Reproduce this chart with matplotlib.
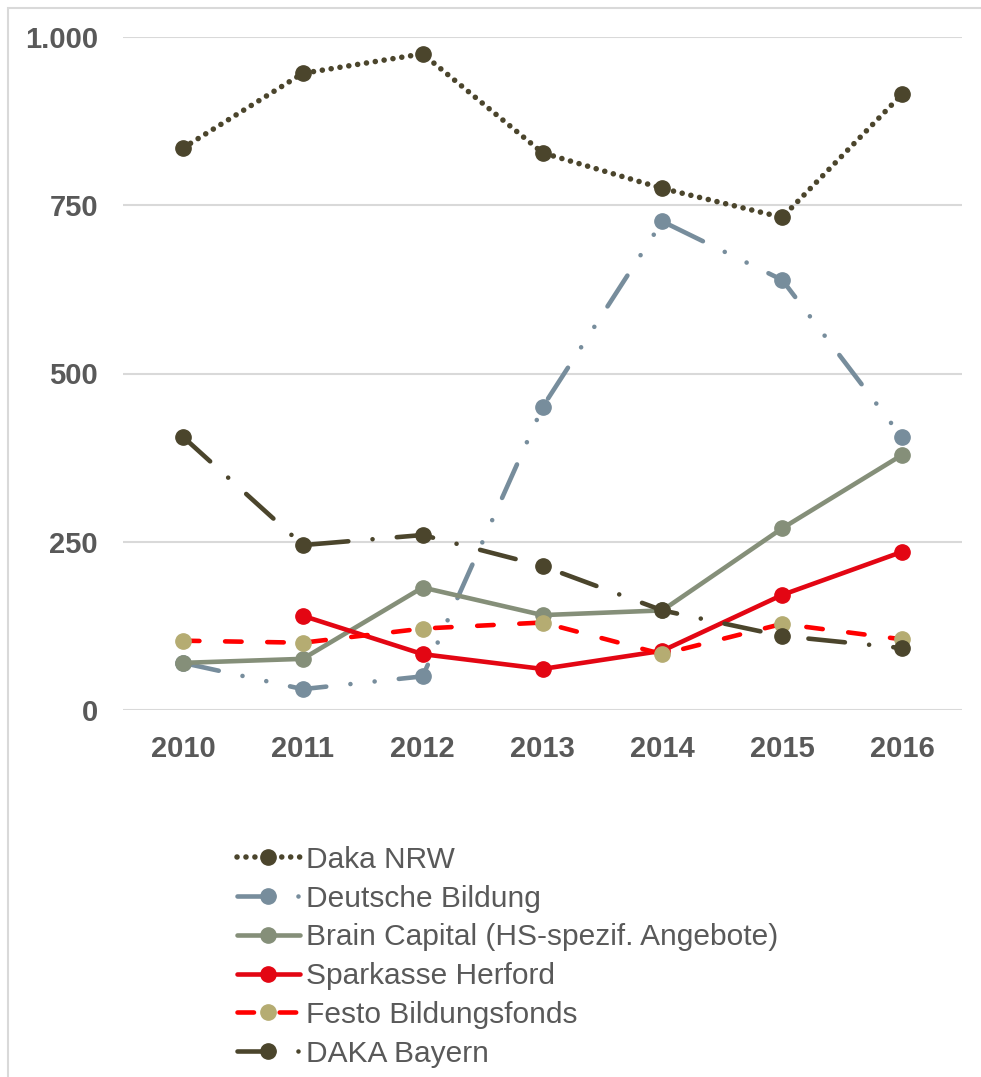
import matplotlib
matplotlib.use("Agg")
import matplotlib.pyplot as plt
from matplotlib.patches import Rectangle
from matplotlib.ticker import FuncFormatter

# ── Data ─────────────────────────────────────────────────────────────────────
YEARS = ["2010", "2011", "2012", "2013", "2014", "2015", "2016"]

daka_nrw          = [835, 946, 975, 828, 775, 732, 915]
deutsche_bildung  = [70, 31, 50, 450, 726, 639, 405]
brain_capital     = [70, 76, 182, 141, 148, 270, 379]
sparkasse_herford = [None, 140, 83, 61, 88, 171, 235]
festo             = [103, 100, 121, 130, 83, 128, 105]
daka_bayern       = [406, 245, 260, 214, 148, 110, 92]

Y_TICKS = [0, 250, 500, 750, 1000]

# ── Style ────────────────────────────────────────────────────────────────────
TEXT_COL = "#595959"
GRID_COL = "#D9D9D9"
OLIVE    = "#4B452C"
BLUEGREY = "#778D9C"
SAGE     = "#858F79"
RED      = "#E30613"
KHAKI    = "#B5AC72"

SERIES = [
    ("Daka NRW", daka_nrw,
     dict(color=OLIVE, mfc=OLIVE, lw=4.0, ls=(0, (0.01, 1.6)))),
    ("Deutsche Bildung", deutsche_bildung,
     dict(color=BLUEGREY, mfc=BLUEGREY, lw=3.3, ls=(0, (8.0, 5.3, 0.01, 5.3, 0.01, 5.3)))),
    ("Brain Capital (HS-spezif. Angebote)", brain_capital,
     dict(color=SAGE, mfc=SAGE, lw=3.3, ls="-")),
    ("Sparkasse Herford", sparkasse_herford,
     dict(color=RED, mfc=RED, lw=3.3, ls="-")),
    ("Festo Bildungsfonds", festo,
     dict(color="#FF0000", mfc=KHAKI, lw=3.3, ls=(0, (3.6, 5.6)))),
    ("DAKA Bayern", daka_bayern,
     dict(color=OLIVE, mfc=OLIVE, lw=3.3, ls=(0, (8.0, 5.3, 0.01, 5.3)))),
]

plt.rcParams["font.family"] = ["Liberation Sans", "DejaVu Sans"]

fig = plt.figure(figsize=(9.81, 10.77), dpi=100)
# light frame round the chart area (runs off the right and bottom edges)
fig.add_artist(Rectangle((8 / 981, -0.1), 1.2, 1.1 - 8 / 1077, transform=fig.transFigure,
                         fill=False, edgecolor=GRID_COL, lw=1.5))
ax = fig.add_axes([123 / 981, 1 - 710 / 1077, (962 - 123) / 981, (710 - 37) / 1077])

x = list(range(len(YEARS)))
for label, vals, st in SERIES:
    xs = [xi for xi, v in zip(x, vals) if v is not None]
    ys = [v for v in vals if v is not None]
    ax.plot(xs, ys, label=label, color=st["color"], ls=st["ls"], lw=st["lw"],
            dash_capstyle="round", solid_capstyle="round",
            marker="o", ms=11, mfc=st["mfc"], mec=st["mfc"])

ax.set_xlim(-0.5, len(YEARS) - 0.5)
ax.set_ylim(0, 1000)
ax.set_xticks(x)
ax.set_xticklabels(YEARS)
ax.set_yticks(Y_TICKS)
ax.yaxis.set_major_formatter(FuncFormatter(lambda v, _: f"{int(v):,}".replace(",", ".")))
ax.tick_params(length=0, labelsize=21, labelcolor=TEXT_COL)
ax.tick_params(axis="y", pad=18)
ax.tick_params(axis="x", pad=18)
for lab in ax.get_xticklabels() + ax.get_yticklabels():
    lab.set_fontweight("bold")
for sp in ax.spines.values():
    sp.set_visible(False)
ax.grid(axis="y", color=GRID_COL, lw=1.5)
ax.set_axisbelow(True)

leg = fig.legend(loc="upper left", bbox_to_anchor=(225 / 981, 1 - 834 / 1077),
                 frameon=False, fontsize=21.5, handlelength=2.1, handletextpad=0.2,
                 labelspacing=0.36, borderaxespad=0)
for t in leg.get_texts():
    t.set_color(TEXT_COL)

fig.savefig("out.png", dpi=100)
